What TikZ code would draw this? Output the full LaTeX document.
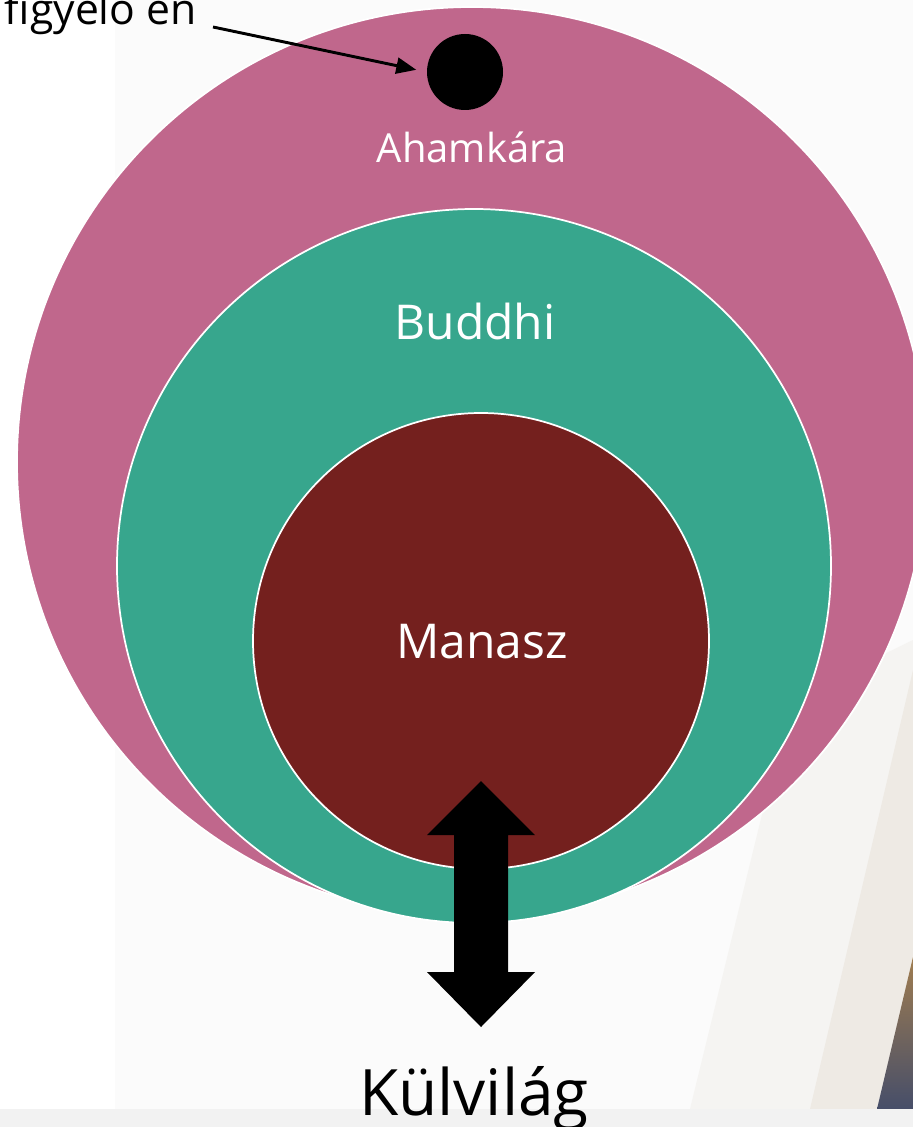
\documentclass[tikz,border=0pt]{standalone}
\usepackage{fontspec}
\setmainfont{Open Sans}
\usetikzlibrary{arrows.meta}
\definecolor{pinkc}{RGB}{192,103,140}
\definecolor{tealc}{RGB}{55,166,141}
\definecolor{maroonc}{RGB}{116,32,30}
\definecolor{bandgray}{RGB}{242,242,242}
\definecolor{bandA}{RGB}{245,244,242}
\definecolor{bandB}{RGB}{238,234,228}
\definecolor{photoTop}{RGB}{160,125,80}
\definecolor{photoBot}{RGB}{70,78,105}
\tikzset{
  ring/.style={circle, inner sep=0pt, outer sep=0pt, draw=white, line width=1.3pt},
  intext/.style={text=white, inner sep=0pt, anchor=base},
  outtext/.style={text=black, inner sep=0pt},
}
\begin{document}
\begin{tikzpicture}[x=0.75pt, y=-0.75pt]
\path[use as bounding box] (0,0) rectangle (913,1127);
% background
\fill[white] (0,0) rectangle (913,1127);
\fill[black!1.5] (115,0) rectangle (913,1109);
\fill[bandA] (790,700) -- (913,640) -- (913,1109) -- (690,1109) -- cycle;
\fill[bandB] (913,670) -- (913,1109) -- (810,1109) -- cycle;
\shade[top color=photoTop, bottom color=photoBot] (913,957) -- (913,1109) -- (877,1109) -- cycle;
\fill[bandgray] (0,1109) rectangle (913,1127);
% circles
\node[ring, fill=pinkc, minimum size=682.5pt] (aham) at (472,462) {};
\node[ring, fill=tealc, minimum size=535.5pt] (buddhi) at (474,566) {};
\node[ring, fill=maroonc, minimum size=342pt] (manasz) at (481,641) {};
\node[circle, fill=black, inner sep=0pt, minimum size=57pt] (dot) at (465,72) {};
% labels
\node[intext, font=\fontsize{30}{36}\selectfont] (tAham) at (472,162) {Ahamkára};
\node[intext, font=\fontsize{36}{43}\selectfont] (tBuddhi) at (475,339) {Buddhi};
\node[intext, font=\fontsize{36}{43}\selectfont] (tManasz) at (482,658) {Manasz};
\node[outtext, anchor=base, font=\fontsize{48}{58}\selectfont] (tKul) at (474,1115) {Külvilág};
\node[outtext, anchor=base east, font=\fontsize{32}{38}\selectfont] (tFig) at (197,25) {figyelo en};
% pointer arrow
\coordinate (figEnd) at (213,27);
\draw[line width=2.2pt, -{Triangle[length=15pt, width=12pt]}, shorten >=8pt] (figEnd) -- (dot.west);
% double arrow
\fill[black] (481,781) -- (535,835) -- (508,835) -- (508,972) -- (535,972) -- (481,1027)
  -- (427,972) -- (454,972) -- (454,835) -- (427,835) -- cycle;
\end{tikzpicture}
\end{document}
